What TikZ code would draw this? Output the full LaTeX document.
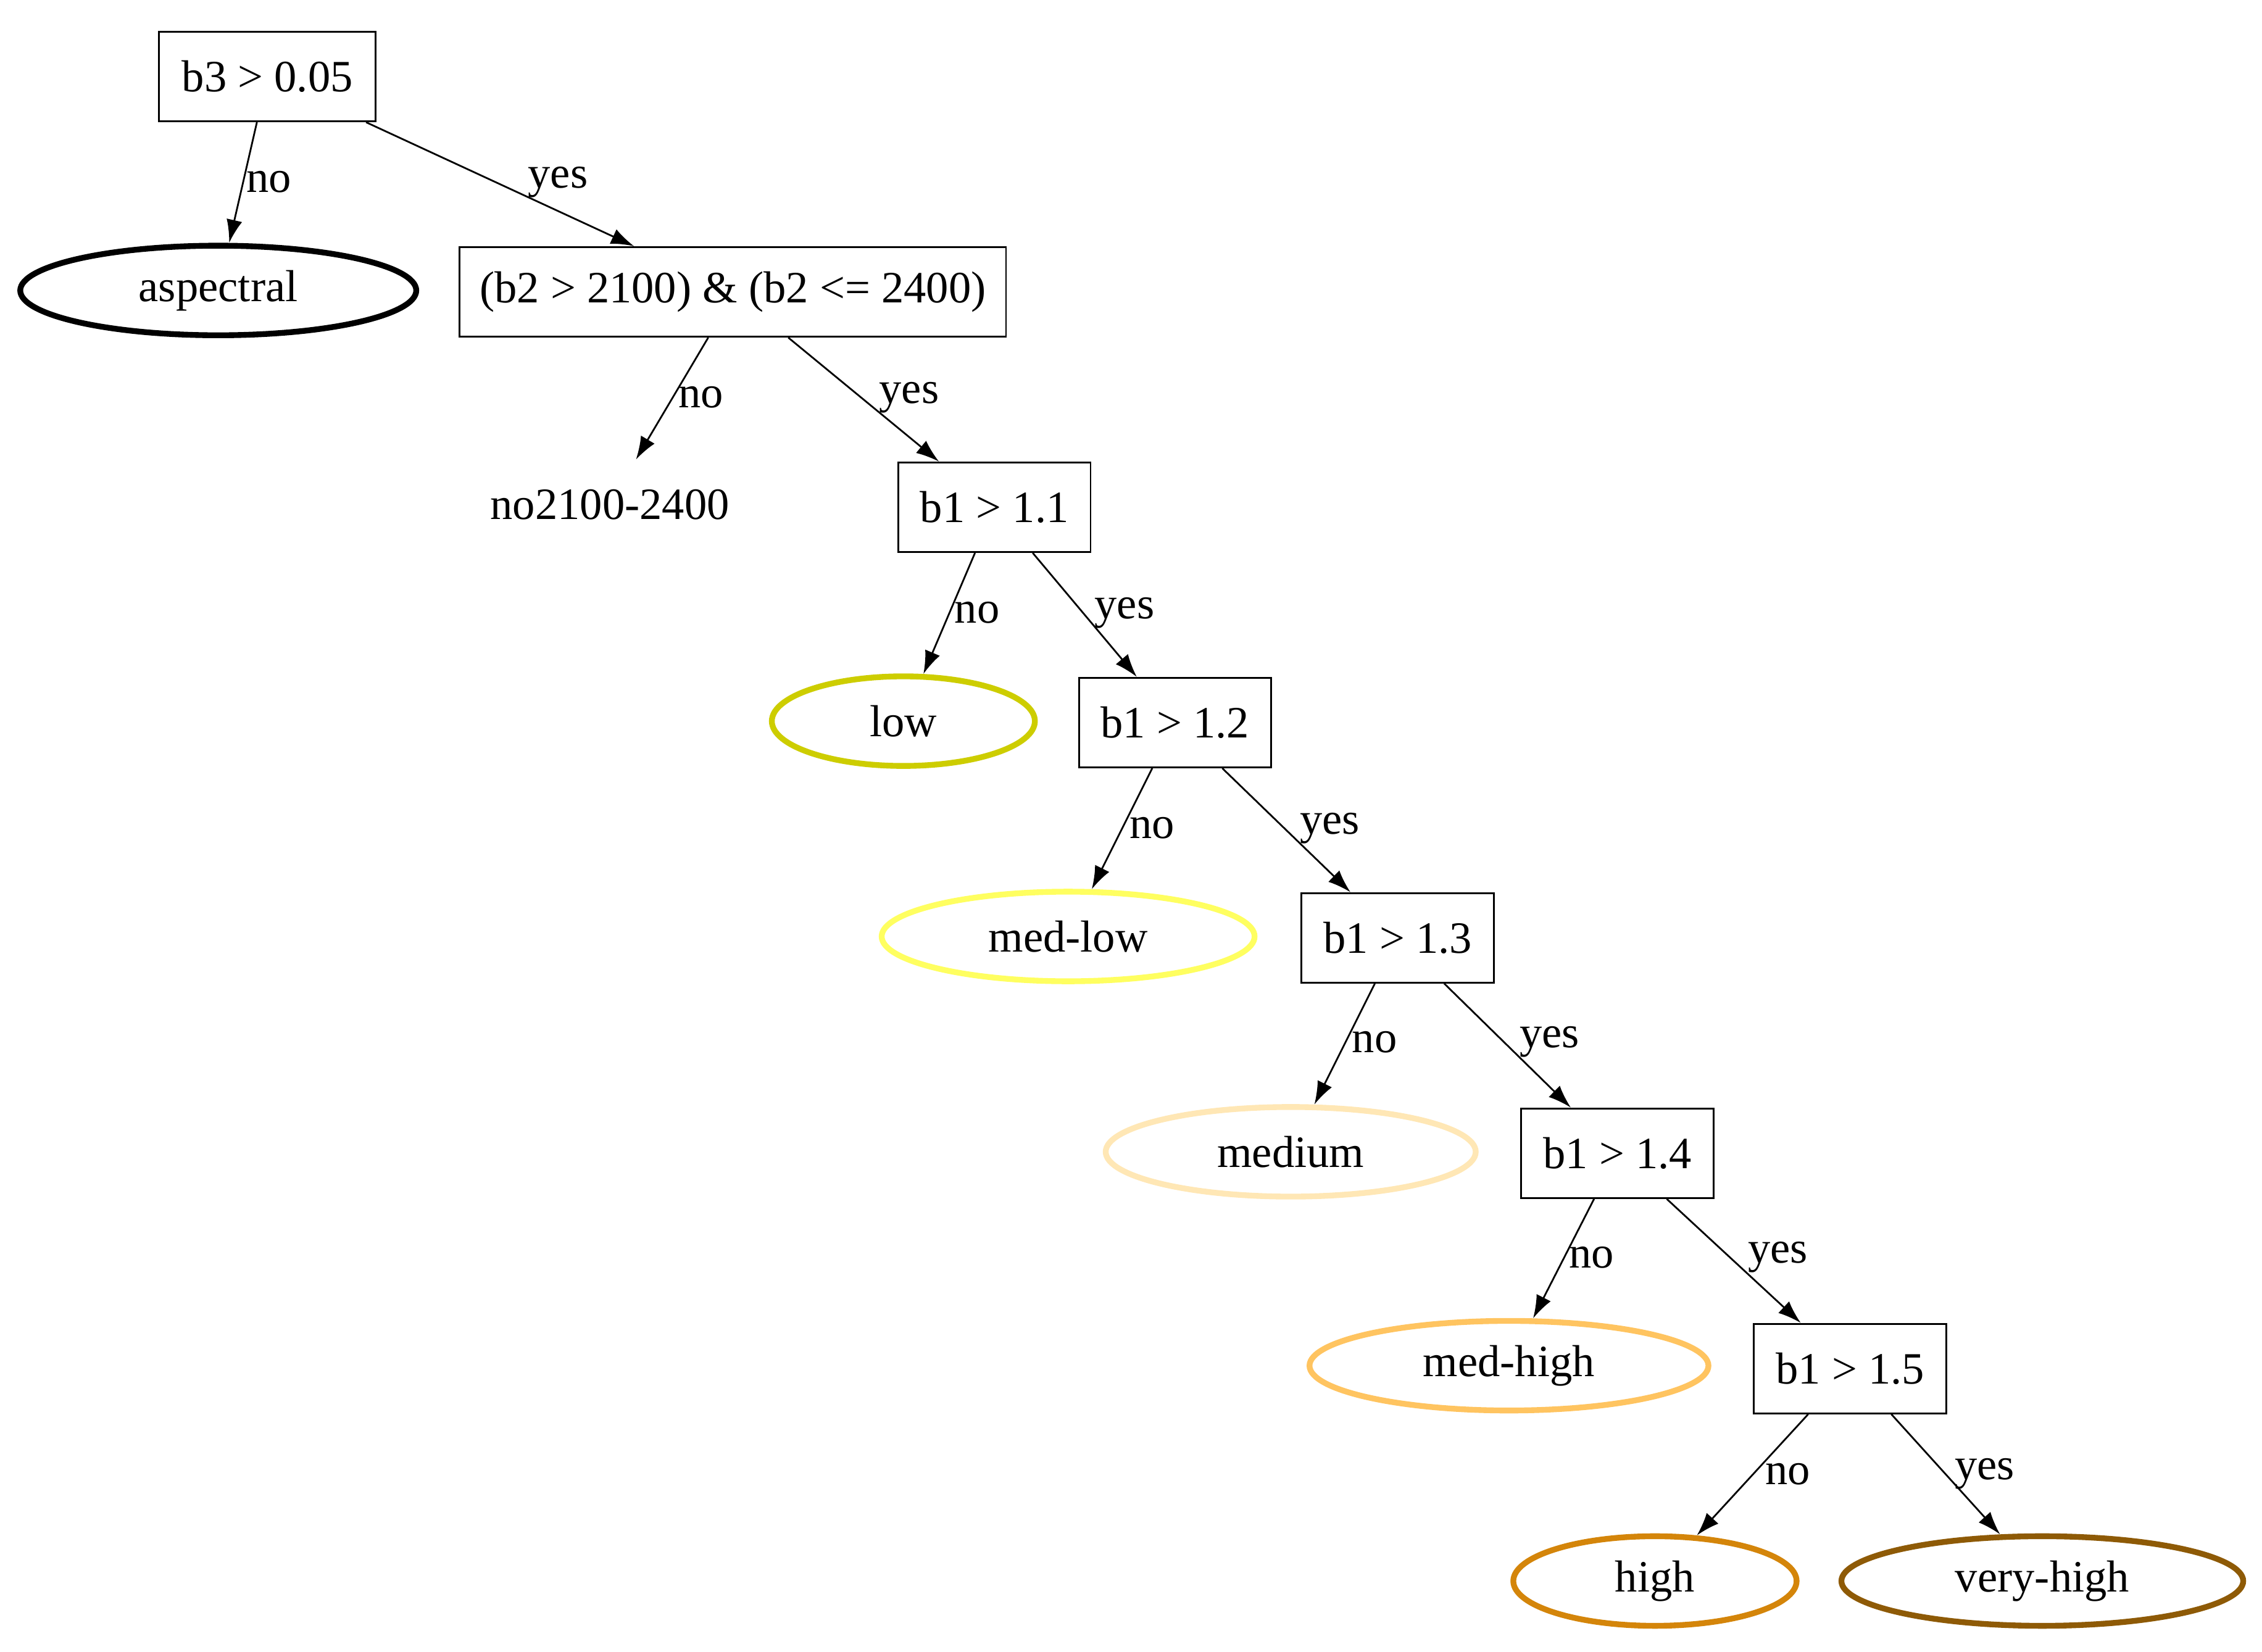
\documentclass[tikz,border=0pt]{standalone}
\usepackage{fontspec}
\setmainfont{Liberation Serif}
\usetikzlibrary{shapes.geometric,arrows.meta}
\definecolor{cLow}{HTML}{CDCD00}
\definecolor{cMedLow}{HTML}{FFFF60}
\definecolor{cMed}{HTML}{FFE7B5}
\definecolor{cMedHigh}{HTML}{FFC460}
\definecolor{cHigh}{HTML}{D4850A}
\definecolor{cVHigh}{HTML}{8E5A06}
\begin{document}
\begin{tikzpicture}[x=0.5pt,y=-0.5pt,
  every node/.style={font=\fontsize{15.5}{18}\selectfont},
  test/.style={draw,line width=0.6pt,minimum height=31pt,inner sep=0pt},
  leaf/.style={ellipse,line width=2pt,minimum height=31pt,inner sep=0pt},
  lbl/.style={inner sep=0pt},
  edge/.style={line width=0.6pt,-{Latex[length=8pt,width=5.5pt]}}]
\useasboundingbox (0,0) rectangle (1565,1143);
\node[test,minimum width=75pt] (b3) at (185,53) {b3 > 0.05};
\node[leaf,draw=black,minimum width=137pt] (asp) at (151,201) {aspectral};
\node[test,minimum width=189pt] (b2) at (507,202) {(b2 > 2100) \& (b2 <= 2400)};
\node[lbl] (no21) at (422,349) {no2100-2400};
\coordinate (no21top) at (440,318);
\node[test,minimum width=66.5pt] (t11) at (688,351) {b1 > 1.1};
\node[leaf,draw=cLow,minimum width=91pt] (low) at (625,499) {low};
\node[test,minimum width=66.5pt] (t12) at (813,500) {b1 > 1.2};
\node[leaf,draw=cMedLow,minimum width=129pt] (mlow) at (739,648) {med-low};
\node[test,minimum width=66.5pt] (t13) at (967,649) {b1 > 1.3};
\node[leaf,draw=cMed,minimum width=128pt] (med) at (893,797) {medium};
\node[test,minimum width=66.5pt] (t14) at (1119,798) {b1 > 1.4};
\node[leaf,draw=cMedHigh,minimum width=138pt] (mhigh) at (1044,945) {med-high};
\node[test,minimum width=66.5pt] (t15) at (1280,947) {b1 > 1.5};
\node[leaf,draw=cHigh,minimum width=98pt] (high) at (1145,1094) {high};
\node[leaf,draw=cVHigh,minimum width=139pt] (vhigh) at (1413,1094) {very-high};

\draw[edge] (b3) -- (asp);
\draw[edge] (b3) -- (b2);
\draw[edge] (b2.south -| 490,0) -- (no21top);
\draw[edge] (b2) -- (t11);
\draw[edge] (t11) -- (low);
\draw[edge] (t11) -- (t12);
\draw[edge] (t12) -- (mlow);
\draw[edge] (t12) -- (t13);
\draw[edge] (t13) -- (med);
\draw[edge] (t13) -- (t14);
\draw[edge] (t14) -- (mhigh);
\draw[edge] (t14) -- (t15);
\draw[edge] (t15) -- (high);
\draw[edge] (t15) -- (vhigh);

\node[lbl] (l1) at (186,126) {no};
\node[lbl] (l2) at (386,126) {yes};
\node[lbl] (l3) at (485,275) {no};
\node[lbl] (l4) at (629,275) {yes};
\node[lbl] (l5) at (676,424) {no};
\node[lbl] (l6) at (778,424) {yes};
\node[lbl] (l7) at (797,573) {no};
\node[lbl] (l8) at (920,573) {yes};
\node[lbl] (l9) at (951,721) {no};
\node[lbl] (l10) at (1072,721) {yes};
\node[lbl] (l11) at (1101,870) {no};
\node[lbl] (l12) at (1230,870) {yes};
\node[lbl] (l13) at (1237,1020) {no};
\node[lbl] (l14) at (1373,1020) {yes};
\end{tikzpicture}
\end{document}
